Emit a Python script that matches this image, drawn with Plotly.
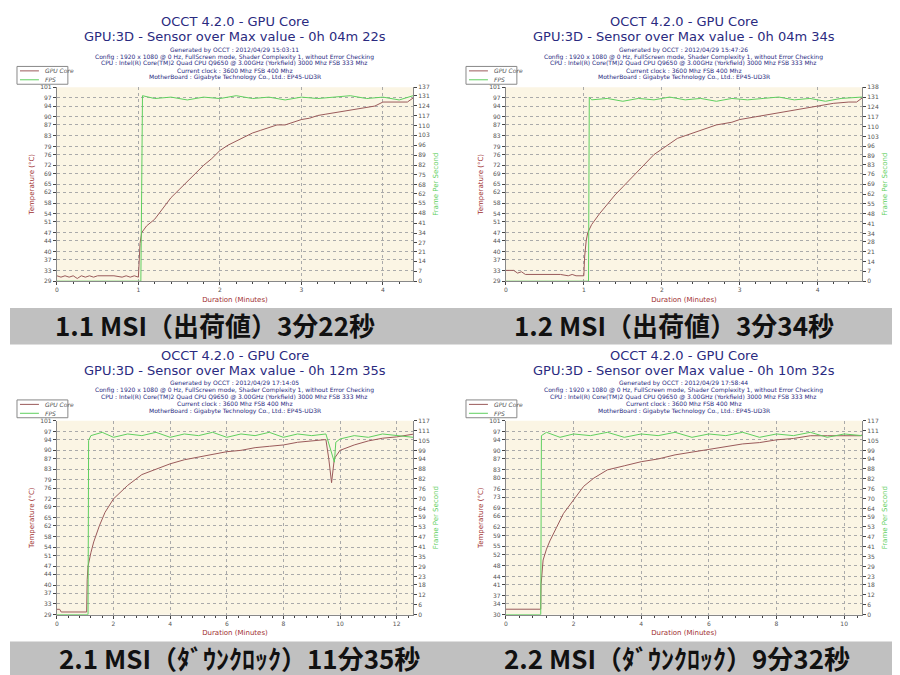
"""OCCT 4.2.0 GPU Core temperature / FPS charts, four runs in a 2x2 grid."""

import plotly.graph_objects as go

W, H = 900, 675

# ---- data ---------------------------------------------------------------
# 1.1 MSI (stock)
t11 = [0, 0.05, 0.1, 0.15, 0.2, 0.25, 0.3, 0.35, 0.4, 0.45, 0.5, 0.6, 0.7, 0.8, 0.85, 0.9, 0.95, 1.0,
       1.02, 1.04, 1.06, 1.1, 1.2, 1.3, 1.4, 1.5, 1.6, 1.7, 1.8, 1.9, 2.0, 2.1, 2.2, 2.3, 2.4, 2.5,
       2.6, 2.7, 2.8, 2.9, 3.0, 3.1, 3.2, 3.3, 3.4, 3.5, 3.6, 3.7, 3.8, 3.9, 4.0, 4.1, 4.2, 4.3, 4.37]
temp11 = [31, 30.5, 31, 30.5, 31, 30, 31, 30.5, 31, 30.5, 31, 31, 31, 30.5, 31, 30.5, 31, 30.5,
          43, 47, 48, 49.5, 52, 56, 60, 63, 66, 69, 72, 74.5, 77.5, 79.5, 81, 82.5, 84, 85, 86, 87, 87,
          88, 89, 89.5, 90.5, 91, 91.5, 92, 92.5, 93, 93.5, 94, 95.5, 95.5, 95.5, 95.5, 97]
fps_t11 = [0, 1.03, 1.04, 1.05, 1.2, 1.4, 1.6, 1.8, 2.0, 2.2, 2.4, 2.6, 2.8, 3.0, 3.2, 3.4, 3.6, 3.8,
           4.0, 4.2, 4.37]
fps11 = [0, 0, 64, 131, 129, 130, 128, 130, 129, 131, 129, 130, 128, 130, 129, 130, 131, 129, 130, 128, 131]

# 1.2 MSI (stock)
t12 = [0, 0.1, 0.15, 0.2, 0.25, 0.3, 0.5, 0.7, 0.8, 0.85, 0.9, 1.0, 1.01, 1.03, 1.05, 1.1, 1.2, 1.3,
       1.4, 1.5, 1.6, 1.7, 1.8, 1.9, 2.0, 2.1, 2.2, 2.3, 2.4, 2.5, 2.6, 2.7, 2.9, 3.0, 3.2, 3.4, 3.6,
       3.8, 4.0, 4.2, 4.4, 4.5, 4.57]
temp12 = [33, 33, 32, 32.5, 31.5, 31.5, 31.5, 31.5, 31, 31.5, 31, 31, 38, 44, 47, 50, 54, 57.5, 61, 64,
          67, 70, 73, 76, 78, 80, 82, 83, 84, 85, 86, 87, 88, 89, 90, 91, 92, 93, 94, 95, 95.5, 95.5, 97]
fps_t12 = [0, 1.06, 1.07, 1.1, 1.3, 1.5, 1.7, 1.9, 2.1, 2.3, 2.5, 2.7, 2.9, 3.1, 3.3, 3.5, 3.7, 3.9,
           4.1, 4.3, 4.57]
fps12 = [0, 0, 131, 129, 130, 128, 130, 129, 131, 129, 130, 128, 130, 129, 130, 131, 129, 130, 128, 130, 131]

# 2.1 MSI (downclock)
t21 = [0, 0.1, 0.15, 1.05, 1.07, 1.1, 1.2, 1.3, 1.5, 1.7, 2.0, 2.5, 3.0, 3.5, 4.0, 4.5, 5.0, 5.5, 6.0,
       6.5, 7.0, 7.5, 8.0, 8.5, 9.0, 9.5, 9.6, 9.7, 9.8, 10.0, 10.5, 11.0, 11.5, 12.0, 12.58]
temp21 = [31, 31, 30, 30, 42, 47, 52, 56, 62, 67, 72, 77, 81, 83, 85, 86.5, 87.5, 88.5, 89.5, 90, 91,
          91.5, 92, 93, 93.5, 94, 87, 78, 87, 90, 92, 93.5, 94.5, 95, 96]
fps_t21 = [0, 1.1, 1.12, 1.2, 1.6, 2.0, 2.5, 3.0, 3.5, 4.0, 4.5, 5.0, 5.5, 6.0, 6.5, 7.0, 7.5, 8.0,
           8.5, 9.0, 9.5, 9.65, 9.8, 9.85, 10.0, 10.5, 11.0, 11.5, 12.0, 12.58]
fps21 = [0, 0, 105, 108, 110, 107, 109, 108, 110, 107, 109, 108, 110, 107, 109, 108, 110, 107, 109,
         108, 109, 100, 92, 104, 106, 108, 107, 109, 108, 107]

# 2.2 MSI (downclock)
t22 = [0, 1.03, 1.04, 1.06, 1.1, 1.2, 1.3, 1.5, 1.7, 2.0, 2.3, 2.6, 3.0, 3.5, 4.0, 4.5, 5.0, 5.5, 6.0,
       6.5, 7.0, 7.5, 8.0, 8.5, 9.0, 9.5, 10.0, 10.5, 10.53]
temp22 = [32, 32, 41, 45, 50, 54, 57, 62, 67, 72, 77, 80, 83, 84.5, 86, 87, 88.5, 89.5, 90.5, 91.5,
          92.5, 93, 94, 94.5, 95.5, 95.5, 95.5, 95.5, 96]
fps_t22 = [0, 1.03, 1.05, 1.2, 1.6, 2.0, 2.5, 3.0, 3.5, 4.0, 4.5, 5.0, 5.5, 6.0, 6.5, 7.0, 7.5, 8.0,
           8.5, 9.0, 9.5, 10.0, 10.53]
fps22 = [0, 0, 108, 110, 107, 109, 108, 110, 107, 109, 108, 110, 107, 109, 108, 110, 107, 109, 108,
         110, 107, 109, 108]

temp_ticks_a = [29, 33, 37, 40, 44, 47, 51, 54, 58, 62, 65, 69, 72, 76, 79, 83, 87, 90, 94, 97, 101]
temp_ticks_b = [30, 34, 37, 41, 44, 48, 52, 55, 59, 62, 66, 69, 73, 76, 80, 83, 87, 90, 94, 97, 101]
fps_ticks_11 = [0, 7, 14, 21, 27, 34, 41, 48, 55, 62, 68, 75, 82, 89, 96, 103, 110, 117, 124, 131, 137]
fps_ticks_12 = [0, 7, 14, 21, 28, 34, 41, 48, 55, 62, 69, 76, 83, 89, 96, 103, 110, 117, 124, 131, 138]
fps_ticks_2 = [0, 6, 12, 18, 23, 29, 35, 41, 47, 53, 59, 64, 70, 76, 82, 88, 94, 99, 105, 111, 117]

durations = ["0h 04m 22s", "0h 04m 34s", "0h 12m 35s", "0h 10m 32s"]
generated = ["2012/04/29 15:03:11", "2012/04/29 15:47:26", "2012/04/29 17:14:05", "2012/04/29 17:58:44"]
banners = ["1.1 MSI（出荷値）3分22秒", "1.2 MSI（出荷値）3分34秒",
           "2.1 MSI（ﾀﾞｳﾝｸﾛｯｸ）11分35秒", "2.2 MSI（ﾀﾞｳﾝｸﾛｯｸ）9分32秒"]

# ---- styles -------------------------------------------------------------
TEMP_C = "#9a5a5a"
FPS_C = "#5fcf5f"
AXIS_RED = "#a03030"
TITLE_C = "#2a2a80"
BG = "#fbf5e4"

panels = [
    dict(t=t11, temp=temp11, ft=fps_t11, fps=fps11, xmax=4.37, xd=1, yt=temp_ticks_a, ft_ticks=fps_ticks_11,
         px=(47, 404), py=(76, 272), top=0, cx=225),
    dict(t=t12, temp=temp12, ft=fps_t12, fps=fps12, xmax=4.57, xd=1, yt=temp_ticks_a, ft_ticks=fps_ticks_12,
         px=(497, 854), py=(76, 272), top=0, cx=675),
    dict(t=t21, temp=temp21, ft=fps_t21, fps=fps21, xmax=12.58, xd=2, yt=temp_ticks_a, ft_ticks=fps_ticks_2,
         px=(47, 404), py=(413, 609), top=337, cx=225),
    dict(t=t22, temp=temp22, ft=fps_t22, fps=fps22, xmax=10.53, xd=2, yt=temp_ticks_b, ft_ticks=fps_ticks_2,
         px=(497, 854), py=(413, 609), top=337, cx=675),
]


def fx(p):
    return p / W


def fy(p):
    return 1 - p / H


def paper_text(text, x, y, size, color, **kw):
    return dict(text=text, x=fx(x), y=fy(y), xref="paper", yref="paper", showarrow=False,
                xanchor=kw.pop("xanchor", "center"), yanchor="middle",
                font=dict(size=size, color=color, **kw))


fig = go.Figure()
annotations = []
shapes = []

for i, p in enumerate(panels):
    n = i + 1
    xa, ya, ya2 = f"x{n}", f"y{2 * n - 1}", f"y{2 * n}"
    xk, yk, yk2 = f"xaxis{n}", f"yaxis{2 * n - 1}", f"yaxis{2 * n}"

    fig.add_trace(go.Scatter(x=p["t"], y=p["temp"], mode="lines", name="GPU Core", xaxis=xa, yaxis=ya,
                             line=dict(color=TEMP_C, width=1)))
    fig.add_trace(go.Scatter(x=p["ft"], y=p["fps"], mode="lines", name="FPS", xaxis=xa, yaxis=ya2,
                             line=dict(color=FPS_C, width=1)))

    tick_font = dict(size=6, color="#555")
    fig.layout[xk] = dict(domain=[fx(p["px"][0]), fx(p["px"][1])], anchor=ya, range=[0, p["xmax"]],
                          dtick=p["xd"], showgrid=True, gridcolor="#aaa", griddash="dot",
                          ticks="outside", ticklen=3, tickfont=tick_font, showline=True, linecolor="#888",
                          zeroline=False, minor=dict(ticks="outside", ticklen=2, dtick=p["xd"] / 5),
                          title=dict(text="Duration (Minutes)", font=dict(size=7, color=AXIS_RED), standoff=4))
    fig.layout[yk] = dict(domain=[fy(p["py"][1]), fy(p["py"][0])], anchor=xa, range=[p["yt"][0], p["yt"][-1]],
                          tickvals=p["yt"], showgrid=True, gridcolor="#aaa", griddash="dot",
                          ticks="outside", ticklen=3, tickfont=tick_font, showline=True, linecolor="#888",
                          zeroline=False,
                          title=dict(text="Temperature (°C)", font=dict(size=7, color=AXIS_RED), standoff=4))
    fig.layout[yk2] = dict(overlaying=ya, anchor=xa, side="right", range=[0, p["ft_ticks"][-1]],
                           tickvals=p["ft_ticks"], showgrid=False, ticks="outside", ticklen=3,
                           tickfont=tick_font, showline=True, linecolor="#888", zeroline=False,
                           title=dict(text="Frame Per Second", font=dict(size=7, color=FPS_C), standoff=4))

    shapes.append(dict(type="rect", xref="paper", yref="paper", layer="below",
                       x0=fx(p["px"][0]), x1=fx(p["px"][1]), y0=fy(p["py"][1]), y1=fy(p["py"][0]),
                       fillcolor=BG, line=dict(width=0)))

    # small legend box, top-left of each panel
    lx, ly = (p["px"][0] - 40, p["top"] + 55)
    shapes.append(dict(type="rect", xref="paper", yref="paper", x0=fx(lx), x1=fx(lx + 51),
                       y0=fy(ly + 18), y1=fy(ly), fillcolor="white", line=dict(color="#888", width=1)))
    for k, (name, col) in enumerate([("GPU Core", TEMP_C), ("FPS", FPS_C)]):
        yy = ly + 4.5 + k * 9
        shapes.append(dict(type="line", xref="paper", yref="paper", x0=fx(lx + 3), x1=fx(lx + 22),
                           y0=fy(yy), y1=fy(yy), line=dict(color=col, width=1)))
        annotations.append(paper_text(f"<i>{name}</i>", lx + 26, yy, 6, "#555", xanchor="left"))

    top = p["top"]
    lines = [
        ("OCCT 4.2.0 - GPU Core", 13, 10),
        (f"GPU:3D - Sensor over Max value - {durations[i]}", 13, 25),
        (f"Generated by OCCT : {generated[i]}", 6, 38),
        ("Config : 1920 x 1080 @ 0 Hz, FullScreen mode, Shader Complexity 1, without Error Checking", 6, 45),
        ("CPU : Intel(R) Core(TM)2 Quad CPU Q9650 @ 3.00GHz (Yorkfield) 3000 Mhz FSB 333 Mhz", 6, 52),
        ("Current clock : 3600 Mhz FSB 400 Mhz", 6, 59),
        ("MotherBoard : Gigabyte Technology Co., Ltd.: EP45-UD3R", 6, 66),
    ]
    for text, size, yy in lines:
        annotations.append(paper_text(text, p["cx"], top + yy, size, TITLE_C))

# banners
for i, (y0, y1) in enumerate([(299, 336), (299, 336), (636, 673), (636, 673)]):
    if i % 2 == 0:
        shapes.append(dict(type="rect", xref="paper", yref="paper", x0=0, x1=1, y0=fy(y1), y1=fy(y0),
                           fillcolor="#c0c0c0", line=dict(width=0)))
    annotations.append(paper_text(f"<b>{banners[i]}</b>", [205, 665, 230, 668][i], (y0 + y1) / 2 - 2,
                                  26, "#111", family="Noto Sans CJK JP"))

fig.update_layout(width=W, height=H, margin=dict(l=0, r=0, t=0, b=0), paper_bgcolor="white",
                  plot_bgcolor="rgba(0,0,0,0)", font=dict(family="DejaVu Sans"),
                  annotations=annotations, shapes=shapes, showlegend=False)

fig.write_html("out.html")
